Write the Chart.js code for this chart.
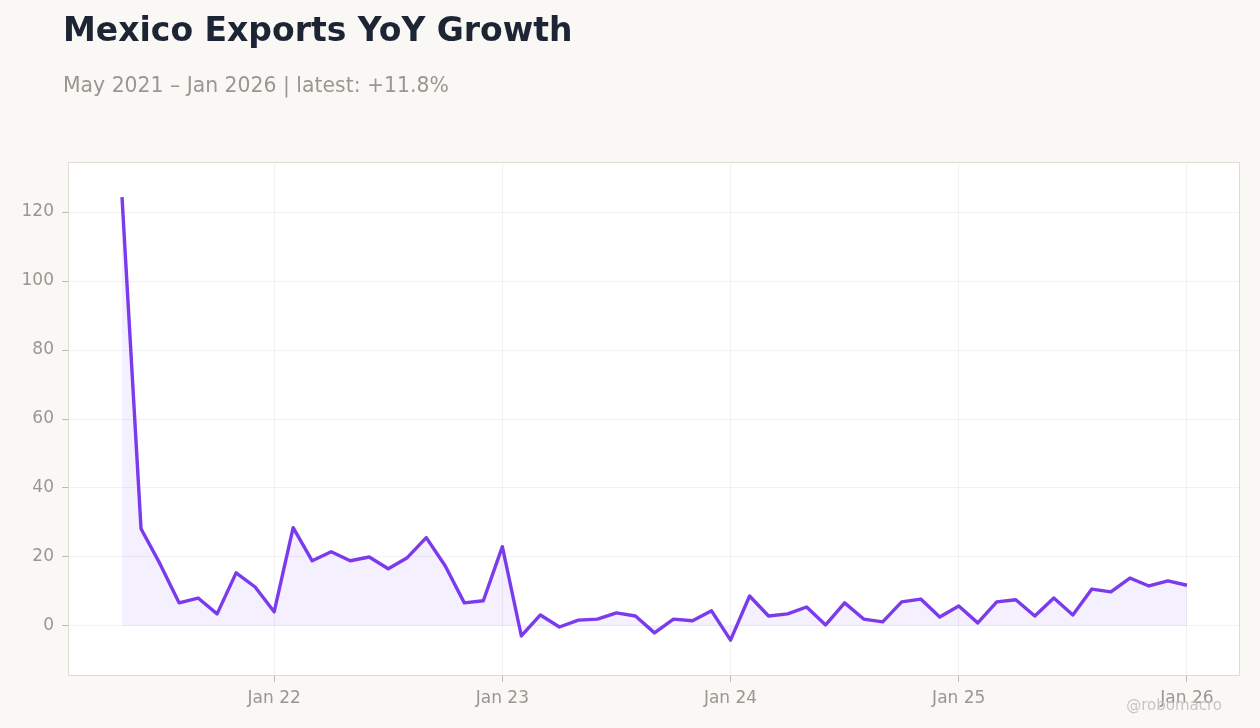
<!DOCTYPE html>
<html>
<head>
<meta charset="utf-8">
<script src="https://cdn.jsdelivr.net/npm/chart.js@4"></script>
<style>
  body { margin: 0; background: #f9f8f5; font-family: "DejaVu Sans", sans-serif; }
  #wrap { position: relative; width: 1260px; height: 728px; }
  #title { position: absolute; left: 63px; top: 10px; font-size: 33px; font-weight: bold; color: #1d2434; }
  #sub { position: absolute; left: 63px; top: 73px; font-size: 20.4px; color: #9a9691; }
  #mark { position: absolute; right: 38px; top: 696px; font-size: 15px; color: #c8c5c0; }
  canvas { position: absolute; left: 0; top: 0; }
</style>
</head>
<body>
<div id="wrap">
  <canvas id="growthChart" width="1260" height="728"></canvas>
  <div id="title">Mexico Exports YoY Growth</div>
  <div id="sub">May 2021 – Jan 2026 | latest: +11.8%</div>
  <div id="mark">@robomacro</div>
</div>
<script>
// monthly index 0 = May 2021 ... 56 = Jan 2026
var yoy = [
  124.3, 28.2, 18.0, 6.7, 8.1, 3.5, 15.4, 11.3,
  4.1, 28.5, 18.9, 21.5, 18.9, 20.0, 16.6, 19.8, 25.6, 17.4, 6.7, 7.3,
  23.0, -2.9, 3.2, -0.3, 1.7, 2.0, 3.8, 2.9, -2.0, 2.0, 1.5, 4.4,
  -4.1, 8.7, 2.9, 3.5, 5.5, 0.3, 6.7, 2.0, 1.2, 7.0, 7.8, 2.6,
  5.8, 0.9, 7.0, 7.6, 2.9, 8.1, 3.2, 10.7, 9.9, 13.9, 11.6, 13.1,
  11.8
];
var tickPos = [8, 20, 32, 44, 56];
var tickLabels = ["Jan 22", "Jan 23", "Jan 24", "Jan 25", "Jan 26"];

var points = yoy.map(function (v, i) { return { x: i, y: v }; });

var plotFrame = {
    id: "plotFrame",
    beforeDraw: function (chart) {
        var a = chart.chartArea, ctx = chart.ctx;
        ctx.save();
        ctx.fillStyle = "#ffffff";
        ctx.fillRect(a.left, a.top, a.right - a.left, a.bottom - a.top);
        ctx.restore();
    },
    afterDraw: function (chart) {
        var a = chart.chartArea, ctx = chart.ctx;
        ctx.save();
        ctx.strokeStyle = "#e0dbd4";
        ctx.lineWidth = 1;
        ctx.strokeRect(a.left + 0.5, a.top + 0.5, a.right - a.left - 1, a.bottom - a.top - 1);
        ctx.restore();
    }
};

new Chart(document.getElementById("growthChart"), {
    type: "line",
    data: {
        datasets: [
            {
                data: points,
                borderColor: "#7c3aed",
                borderWidth: 3.4,
                borderJoinStyle: "round",
                backgroundColor: "rgba(124, 58, 237, 0.08)",
                fill: "origin",
                pointRadius: 0,
                tension: 0,
            },
        ],
    },
    options: {
        responsive: false,
        animation: false,
        layout: { padding: { left: 0, right: 20, top: 162, bottom: 0 } },
        plugins: { legend: { display: false }, tooltip: { enabled: false } },
        scales: {
            x: {
                type: "linear",
                min: -2.84,
                max: 58.79,
                afterBuildTicks: function (axis) {
                    axis.ticks = tickPos.map(function (v) { return { value: v }; });
                },
                afterFit: function (axis) { axis.height = 52; },
                ticks: {
                    color: "#9a9691",
                    font: { family: "DejaVu Sans", size: 17 },
                    padding: 6,
                    maxRotation: 0,
                    callback: function (v) { return tickLabels[tickPos.indexOf(v)]; },
                },
                grid: { color: "rgba(0,0,0,0.05)", tickColor: "#bdb9b3", tickLength: 6 },
                border: { display: false },
            },
            y: {
                min: -14.5,
                max: 134.5,
                afterFit: function (axis) { axis.width = 68; },
                ticks: {
                    stepSize: 20,
                    includeBounds: false,
                    color: "#9a9691",
                    font: { family: "DejaVu Sans", size: 17 },
                    padding: 8,
                },
                grid: { color: "rgba(0,0,0,0.05)", tickColor: "#bdb9b3", tickLength: 6 },
                border: { display: false },
            },
        },
    },
    plugins: [plotFrame],
});
</script>
</body>
</html>
